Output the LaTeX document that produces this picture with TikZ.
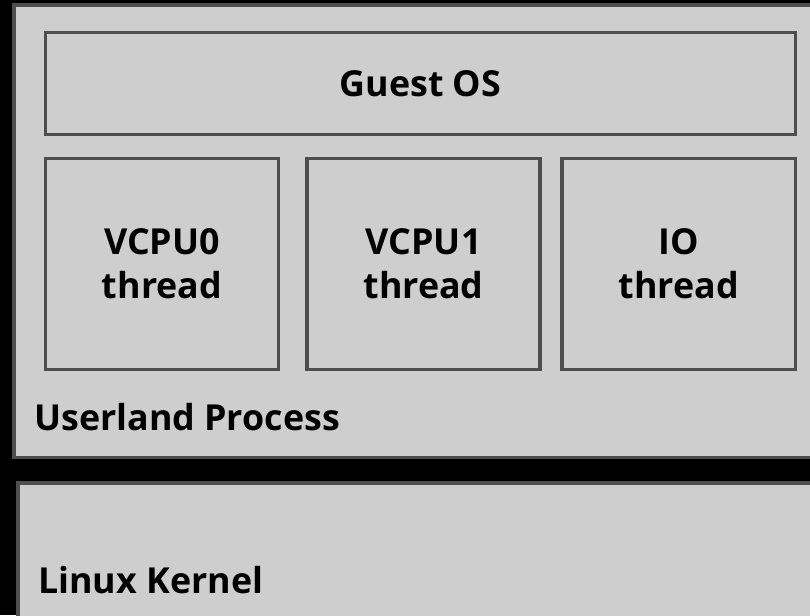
\documentclass[tikz,border=0pt]{standalone}
\usepackage{fontspec}
\setmainfont{Open Sans}
\definecolor{boxfill}{HTML}{CECECE}
\definecolor{boxline}{HTML}{4E4E4E}
\tikzset{
  box/.style={draw=boxline,fill=boxfill,line width=3.5pt},
  part/.style={box,align=center,inner sep=0pt},
  lbl/.style={anchor=base west,inner sep=0pt}
}
\begin{document}
\begin{tikzpicture}[x=1pt,y=-1pt,font=\fontsize{35.8}{44}\selectfont\bfseries]
    \useasboundingbox (0,0) rectangle (810,615);
    \fill[black] (0,0) rectangle (810,615);
    \clip (0,0) rectangle (810,615);
    \draw[box] (14,5) rectangle (840,457.5);
    \draw[box] (18,483) rectangle (840,650);
    \node[part,minimum width=750,minimum height=102] (guest) at (420.4,83.7) {Guest OS};
    \node[part,minimum width=233,minimum height=211] (vcpu0) at (162,264) {VCPU0\\thread};
    \node[part,minimum width=233,minimum height=211] (vcpu1) at (423.6,264) {VCPU1\\thread};
    \node[part,minimum width=233.5,minimum height=211] (io) at (678.7,264) {IO\\thread};
    \node[lbl] (user) at (34,430) {Userland Process};
    \node[lbl] (kernel) at (38,593) {Linux Kernel};
\end{tikzpicture}
\end{document}
